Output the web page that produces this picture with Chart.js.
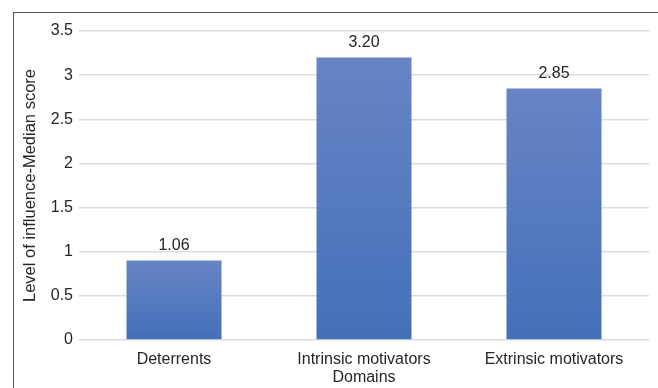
<!DOCTYPE html>
<html>
<head>
<meta charset="utf-8">
<script src="https://cdn.jsdelivr.net/npm/chart.js@4"></script>
<style>
  body { margin: 0; background: #fff; }
  #wrap { position: relative; width: 658px; height: 388px; }
  #frame { position: absolute; left: 13px; top: 12px; right: 0; bottom: 0;
           border-left: 1px solid #555; border-top: 1px solid #555; pointer-events: none; }
</style>
</head>
<body>
<div id="wrap">
  <canvas id="barChart" width="658" height="388"></canvas>
  <div id="frame"></div>
</div>
<script>
// values, labels as printed above the bars
const categories = ['Deterrents', 'Intrinsic motivators', 'Extrinsic motivators'];
const values = [0.9, 3.2, 2.85];
const valueLabels = ['1.06', '3.20', '2.85'];
const yTicks = [0, 0.5, 1, 1.5, 2, 2.5, 3, 3.5];

const font = "'Liberation Sans', Arial, sans-serif";

// gradient per bar, lighter on top
function barColor(context) {
  const chart = context.chart;
  const y = chart.scales.y;
  if (!y || !chart.chartArea || context.dataIndex === undefined) return '#4f75bd';
  const top = y.getPixelForValue(values[context.dataIndex]);
  const bottom = y.getPixelForValue(0);
  const g = chart.ctx.createLinearGradient(0, top, 0, bottom);
  g.addColorStop(0, '#6884c5');
  g.addColorStop(1, '#4470b8');
  return g;
}

const valueLabelPlugin = {
  id: 'valueLabels',
  afterDatasetsDraw(chart) {
    const ctx = chart.ctx;
    const meta = chart.getDatasetMeta(0);
    ctx.save();
    ctx.font = '16px ' + font;
    ctx.fillStyle = '#262626';
    ctx.textAlign = 'center';
    ctx.textBaseline = 'middle';
    meta.data.forEach((bar, i) => {
      ctx.fillText(valueLabels[i], bar.x, bar.y - 15);
    });
    ctx.restore();
  }
};

const ctx = document.getElementById('barChart');

new Chart(ctx, {
  type: 'bar',
  data: {
    labels: categories,
    datasets: [{
      data: values,
      backgroundColor: barColor,
      barPercentage: 0.5,
      categoryPercentage: 1
    }]
  },
  options: {
    responsive: false,
    animation: false,
    layout: { padding: { left: 0, top: 31, right: 9, bottom: 0 } },
    plugins: {
      legend: { display: false },
      tooltip: { enabled: false }
    },
    scales: {
      x: {
        grid: { display: false },
        border: { display: false },
        ticks: { color: '#262626', font: { family: font, size: 16 }, padding: 2 },
        title: {
          display: true,
          text: 'Domains',
          color: '#262626',
          font: { family: font, size: 16 },
          padding: { top: 0, bottom: 1 }
        },
        afterFit(scale) { scale.height = 48; }
      },
      y: {
        min: 0,
        max: 3.5,
        afterBuildTicks(scale) { scale.ticks = yTicks.map(v => ({ value: v })); },
        grid: { color: '#d9dde3', lineWidth: 1.5, drawTicks: false },
        border: { display: false },
        ticks: {
          color: '#262626',
          font: { family: font, size: 16 },
          padding: 6,
          callback: v => String(v)
        },
        title: {
          display: true,
          text: 'Level of influence-Median score',
          color: '#262626',
          font: { family: font, size: 16.5 },
          padding: { top: 21, bottom: 0 }
        },
        afterFit(scale) { scale.width = 79; }
      }
    }
  },
  plugins: [valueLabelPlugin]
});
</script>
</body>
</html>
